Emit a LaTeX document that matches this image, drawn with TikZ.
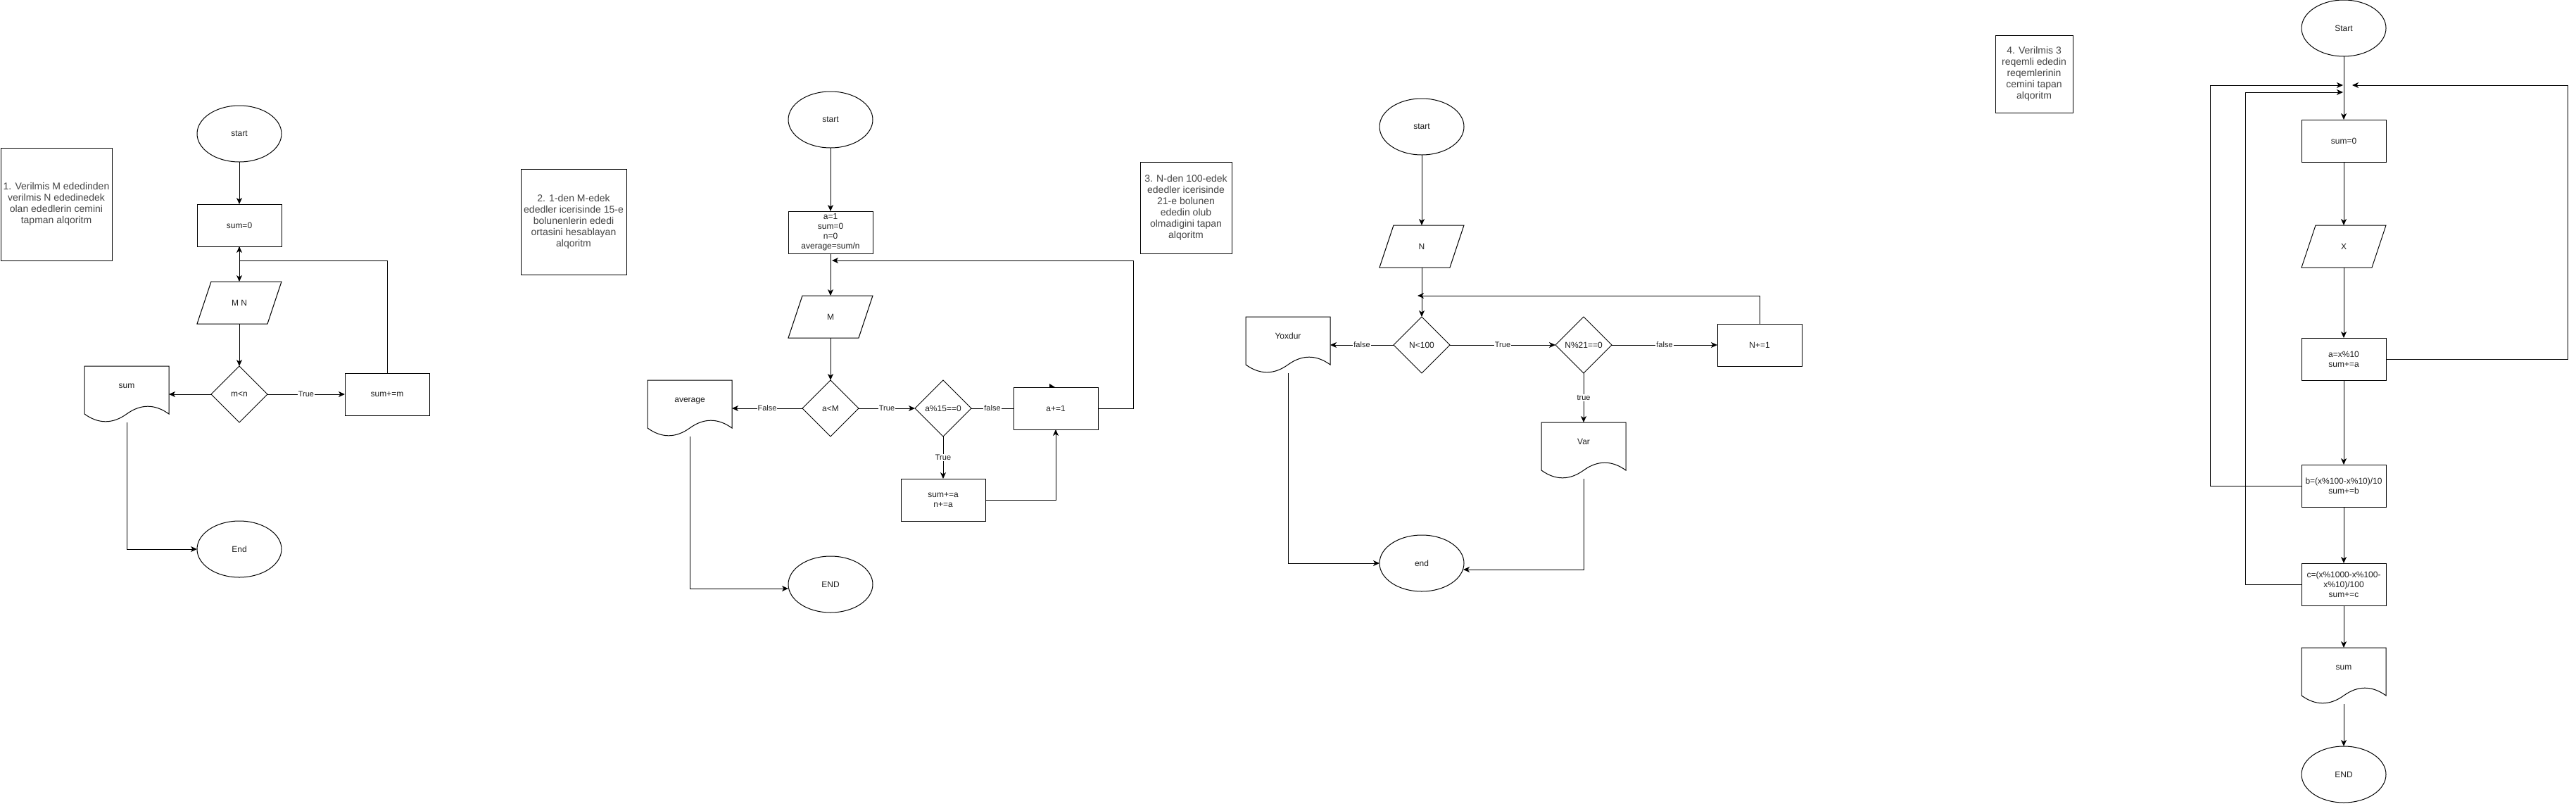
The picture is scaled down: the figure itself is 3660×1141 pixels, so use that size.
\documentclass[tikz,border=0pt]{standalone}
\usepackage{fontspec}
\setmainfont{Liberation Sans}
\usetikzlibrary{shapes.geometric,arrows.meta,calc}
\newcommand\fsNode{\fontsize{12pt}{14pt}\selectfont}
\newcommand\fsNote{\fontsize{14pt}{16pt}\selectfont}
\newcommand\fsLbl{\fontsize{11pt}{13pt}\selectfont}
\definecolor{notegray}{RGB}{68,68,68}
\definecolor{txtc}{RGB}{30,30,30}
\tikzset{
  fcShp/.style={draw=black, line width=1pt},
  fcBase/.style={outer sep=0pt, inner sep=1pt, font=\fsNode, text=txtc, align=center},
  fcTerm/.style={fcBase, fcShp, ellipse, minimum width=120pt, minimum height=80pt, inner sep=0pt},
  fcProc/.style={fcBase, fcShp, rectangle, minimum width=120pt, minimum height=60pt},
  fcIO/.style={fcBase, rectangle, minimum width=120pt, minimum height=60pt},
  fcDec/.style={fcBase, fcShp, diamond, minimum width=80pt, minimum height=80pt, inner sep=0pt},
  fcDoc/.style={fcBase, rectangle, minimum width=120pt, minimum height=80pt, text height=9pt, text depth=27pt},
  fcNote/.style={fcBase, fcShp, rectangle, font=\fsNote, text=notegray},
  fcLbl/.style={fill=white, font=\fsLbl, text=txtc, inner sep=1pt},
  fcArr/.style={line width=1pt, -{Stealth[length=9pt,width=8pt,inset=2.5pt]}},
  fcLine/.style={line width=1pt},
}
\newcommand\paragram[1]{\draw[fcShp] ($(#1.north west)+(20,0)$) -- (#1.north east) -- ($(#1.south east)+(-20,0)$) -- (#1.south west) -- cycle;}
\newcommand\docshape[1]{\draw[fcShp] (#1.north west) -- (#1.north east) -- ($(#1.north east)+(0,68)$)
  .. controls ($(#1.north west)+(100,53.6)$) and ($(#1.north west)+(80,53.6)$) .. ($(#1.north west)+(60,68)$)
  .. controls ($(#1.north west)+(40,82.4)$) and ($(#1.north west)+(20,82.4)$) .. ($(#1.north west)+(0,68)$) -- cycle;}
\begin{document}
\begin{tikzpicture}[x=1pt, y=-1pt]
\useasboundingbox (0,0) rectangle (3660,1141);
\fill[white] (0,0) rectangle (3660,1141);

% ---------------- Diagram 1 ----------------
\node[fcNote, minimum width=158pt, minimum height=160pt] (n1) at (80,290)
  {1. Verilmis M ededinden\\verilmis N ededinedek\\olan ededlerin cemini\\tapman alqoritm};
\node[fcTerm] (s1) at (340,190) {start};
\node[fcProc] (p1) at (340,320) {sum=0};
\node[fcIO] (io1) at (340,430) {M N};
\paragram{io1}
\node[fcDec] (d1) at (340,560) {m<n};
\node[fcDoc] (doc1) at (180,560) {sum};
\docshape{doc1}
\node[fcProc] (q1) at (550,560) {sum+=m};
\node[fcTerm] (e1) at (340,780) {End};

\draw[fcArr] (s1.south) -- (p1.north);
\draw[fcArr] (p1.south) -- (io1.north);
\draw[fcArr] (q1.north) |- ($(p1.south)+(0,20)$) -- (p1.south);
\draw[fcArr] (io1.south) -- (d1.north);
\draw[fcArr] (d1.west) -- (doc1.east);
\draw[fcArr] (d1.east) -- node[fcLbl] (l1) {True} (q1.west);
\draw[fcArr] (doc1.south) |- (e1.west);

% ---------------- Diagram 2 ----------------
\node[fcNote, minimum width=150pt, minimum height=150pt] (n2) at (815,315)
  {2. 1-den M-edek\\ededler icerisinde 15-e\\bolunenlerin ededi\\ortasini hesablayan\\alqoritm};
\node[fcTerm] (s2) at (1180,170) {start};
\node[fcProc] (p2) at (1180,330) {a=1\\sum=0\\n=0\\average=sum/n};
\node[fcIO] (io2) at (1180,450) {M};
\paragram{io2}
\node[fcDec] (d2a) at (1180,580) {a<M};
\node[fcDec] (d2b) at (1340,580) {a\%15==0};
\node[fcProc] (q2a) at (1500,580) {a+=1};
\node[fcProc] (q2b) at (1340,710) {sum+=a\\n+=a};
\node[fcDoc] (doc2) at (980,580) {average};
\docshape{doc2}
\node[fcTerm] (e2) at (1180,830) {END};

\draw[fcArr] (s2.south) -- (p2.north);
\draw[fcArr] (p2.south) -- (io2.north);
\draw[fcArr] (q2a.east) -- ++(50,0) |- ($(p2.south)+(2,10)$);
\draw[fcArr] (io2.south) -- (d2a.north);
\draw[fcArr] (d2a.east) -- node[fcLbl] (l2a) {True} (d2b.west);
\draw[fcArr] (d2a.west) -- node[fcLbl] (l2b) {False} (doc2.east);
\draw[fcLine] (d2b.east) -- node[fcLbl] (l2c) {false} (q2a.west);
\fill ($(q2a.north)+(-9,-5)$) -- ($(q2a.north)+(-1,0)$) -- ($(q2a.north)+(-9,0)$) -- cycle;
\draw[fcArr] (d2b.south) -- node[fcLbl] (l2d) {True} (q2b.north);
\draw[fcArr] (q2b.east) -| (q2a.south);
\draw[fcArr] (doc2.south) |- ($(e2.west)+(0,6)$);

% ---------------- Diagram 3 ----------------
\node[fcNote, minimum width=130pt, minimum height=130pt] (n3) at (1685,295)
  {3. N-den 100-edek\\ededler icerisinde\\21-e bolunen\\ededin olub\\olmadigini tapan\\alqoritm};
\node[fcTerm] (s3) at (2020,180) {start};
\node[fcIO] (io3) at (2020,350) {N};
\paragram{io3}
\node[fcDec] (d3a) at (2020,490) {N<100};
\node[fcDec] (d3b) at (2250,490) {N\%21==0};
\node[fcProc] (q3) at (2500,490) {N+=1};
\node[fcDoc] (doc3a) at (1830,490) {Yoxdur};
\docshape{doc3a}
\node[fcDoc] (doc3b) at (2250,640) {Var};
\docshape{doc3b}
\node[fcTerm] (e3) at (2020,800) {end};

\draw[fcArr] (s3.south) -- (io3.north);
\draw[fcArr] (io3.south) -- (d3a.north);
\draw[fcArr] (q3.north) |- ($(io3.south)+(-6,40)$);
\draw[fcArr] (d3a.west) -- node[fcLbl] (l3a) {false} (doc3a.east);
\draw[fcArr] (d3a.east) -- node[fcLbl] (l3b) {True} (d3b.west);
\draw[fcArr] (d3b.east) -- node[fcLbl] (l3c) {false} (q3.west);
\draw[fcArr] (d3b.south) -- node[fcLbl] (l3d) {true} (doc3b.north);
\draw[fcArr] (doc3a.south) |- (e3.west);
\draw[fcArr] (doc3b.south) |- ($(e3.east)+(-1,9)$);

% ---------------- Diagram 4 ----------------
\node[fcNote, minimum width=110pt, minimum height=110pt] (n4) at (2890,105)
  {4. Verilmis 3\\reqemli ededin\\reqemlerinin\\cemini tapan\\alqoritm};
\node[fcTerm] (s4) at (3330,40) {Start};
\node[fcProc] (p4a) at (3330,200) {sum=0};
\node[fcIO] (io4) at (3330,350) {X};
\paragram{io4}
\node[fcProc] (p4b) at (3330,510) {a=x\%10\\sum+=a};
\node[fcProc] (p4c) at (3330,690) {b=(x\%100-x\%10)/10\\sum+=b};
\node[fcProc] (p4d) at (3330,830) {c=(x\%1000-x\%100-\\x\%10)/100\\sum+=c};
\node[fcDoc] (doc4) at (3330,960) {sum};
\docshape{doc4}
\node[fcTerm] (e4) at (3330,1100) {END};

\coordinate (j4a) at ($(s4.south)+(0,41)$);
\coordinate (j4b) at ($(s4.south)+(0,51)$);
\draw[fcArr] (s4.south) -- (p4a.north);
\draw[fcArr] (p4a.south) -- (io4.north);
\draw[fcArr] (io4.south) -- (p4b.north);
\draw[fcArr] (p4b.south) -- (p4c.north);
\draw[fcArr] (p4c.south) -- (p4d.north);
\draw[fcArr] (p4d.south) -- (doc4.north);
\draw[fcArr] (doc4.south) -- (e4.north);
\draw[fcArr] (p4b.east) -- ++(258,0) |- ($(j4a)+(12,0)$);
\draw[fcArr] (p4c.west) -- ++(-130,0) |- ($(j4a)+(-1,0)$);
\draw[fcArr] (p4d.west) -- ++(-80,0) |- ($(j4b)+(-1,0)$);
\end{tikzpicture}
\end{document}
